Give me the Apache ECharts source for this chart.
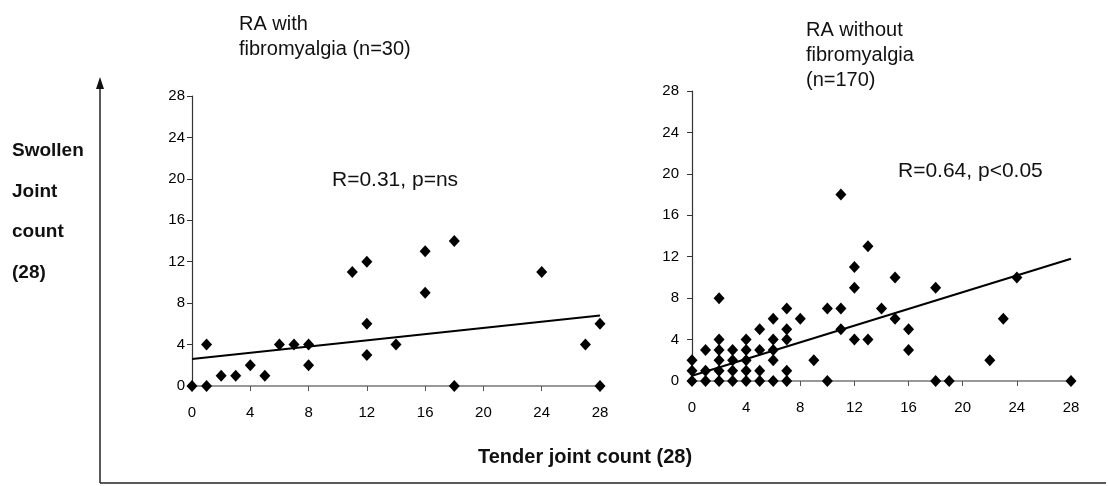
<!DOCTYPE html>
<html><head><meta charset="utf-8">
<script src="https://cdn.jsdelivr.net/npm/echarts@6/dist/echarts.min.js"></script>
<style>html,body{margin:0;padding:0;background:#fff}#c{width:1109px;height:486px}</style>
</head><body><div id="c"></div>
<script>
const axisTicks = [0, 4, 8, 12, 16, 20, 24, 28];
const leftTitle = 'RA with\nfibromyalgia (n=30)';
const rightTitle = 'RA without\nfibromyalgia\n(n=170)';
const leftStat = 'R=0.31, p=ns';
const rightStat = 'R=0.64, p<0.05';
const yLabelLines = ['Swollen', 'Joint', 'count', '(28)'];
const xLabel = 'Tender joint count (28)';

const withFM = [[0,0],[1,0],[1,4],[2,1],[3,1],[4,2],[5,1],[6,4],[7,4],[8,4],[8,2],
  [11,11],[12,12],[12,6],[12,3],[14,4],[16,13],[16,9],[18,14],[18,0],[24,11],[27,4],[28,6],[28,0]];
const withFMTrend = [[0,2.6],[28,6.8]];

const withoutFM = [[0,0],[0,1],[0,2],[1,0],[1,1],[1,3],
  [2,0],[2,1],[2,2],[2,3],[2,4],[2,8],[3,0],[3,1],[3,2],[3,3],
  [4,0],[4,1],[4,2],[4,3],[4,4],[5,0],[5,1],[5,3],[5,5],
  [6,0],[6,2],[6,3],[6,4],[6,6],[7,0],[7,1],[7,4],[7,5],[7,7],
  [8,6],[9,2],[10,0],[10,7],[11,5],[11,7],[11,18],[12,4],[12,9],[12,11],
  [13,4],[13,13],[14,7],[15,6],[15,10],[16,3],[16,5],[18,0],[18,9],[19,0],
  [22,2],[23,6],[24,10],[28,0]];
const withoutFMTrend = [[0,0.5],[28,11.8]];

const F = 'Arial, "Liberation Sans", sans-serif';
function xAx(i){return {gridIndex:i,type:'value',min:0,max:28,interval:4,
  axisLine:{onZero:false,lineStyle:{color:'#777',width:1.5}},
  axisTick:{show:true,length:5,lineStyle:{color:'#555'}},
  splitLine:{show:false},
  axisLabel:{margin:19,color:'#000',fontSize:15,fontFamily:F,
    formatter:v=>axisTicks.includes(v)?String(v):''}};}
function yAx(i,m){return {gridIndex:i,type:'value',min:0,max:28,interval:4,
  axisLine:{show:true,lineStyle:{color:'#333',width:1.2}},
  axisTick:{show:true,length:5,lineStyle:{color:'#333'}},
  splitLine:{show:false},
  axisLabel:{margin:m,color:'#000',fontSize:15,fontFamily:F}};}
const dia = {type:'scatter',symbol:'diamond',symbolSize:[11,12],itemStyle:{color:'#000',opacity:1},z:3};
const ln = {type:'line',showSymbol:false,symbol:'none',lineStyle:{color:'#000',width:2},z:2};

const chart = echarts.init(document.getElementById('c'));
chart.setOption({
  animation:false,
  backgroundColor:'#fff',
  grid:[{left:192,top:96,width:408,height:290},{left:692,top:91,width:379,height:290}],
  xAxis:[xAx(0),xAx(1)],
  yAxis:[yAx(0,7),yAx(1,13)],
  series:[
    Object.assign({},dia,{xAxisIndex:0,yAxisIndex:0,data:withFM}),
    Object.assign({},ln,{xAxisIndex:0,yAxisIndex:0,data:withFMTrend}),
    Object.assign({},dia,{xAxisIndex:1,yAxisIndex:1,data:withoutFM}),
    Object.assign({},ln,{xAxisIndex:1,yAxisIndex:1,data:withoutFMTrend})
  ],
  graphic:[
    {type:'line',shape:{x1:100,y1:86,x2:100,y2:483},style:{stroke:'#222',lineWidth:1.5}},
    {type:'polygon',shape:{points:[[100,77],[96,89],[104,89]]},style:{fill:'#111'}},
    {type:'line',shape:{x1:100,y1:483,x2:1106,y2:483},style:{stroke:'#222',lineWidth:1.5}},
    {type:'text',left:239,top:12,style:{text:leftTitle,font:'20px '+F,fill:'#111',lineHeight:25}},
    {type:'text',left:806,top:18,style:{text:rightTitle,font:'20px '+F,fill:'#111',lineHeight:25}},
    {type:'text',left:332,top:170,style:{text:leftStat,font:'21px '+F,fill:'#111'}},
    {type:'text',left:898,top:161,style:{text:rightStat,font:'21px '+F,fill:'#111'}},
    {type:'text',left:12,top:131,style:{text:yLabelLines.join('\n'),font:'bold 19px '+F,fill:'#111',lineHeight:40.5}},
    {type:'text',left:478,top:447,style:{text:xLabel,font:'bold 20px '+F,fill:'#111'}}
  ]
});
</script></body></html>
